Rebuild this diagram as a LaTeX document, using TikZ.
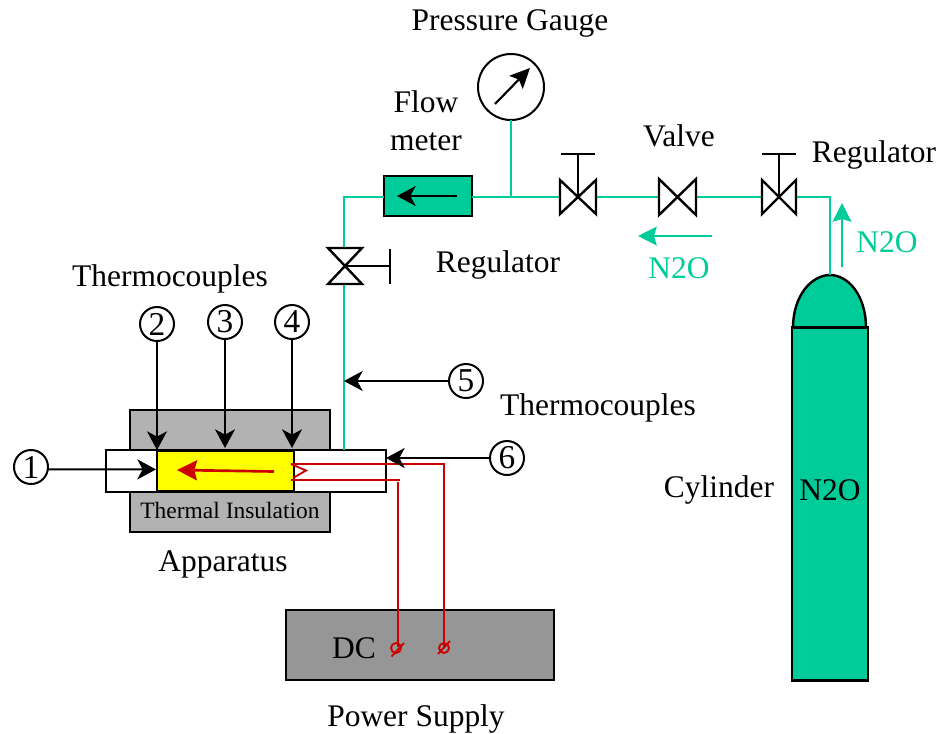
\documentclass[tikz,border=0pt]{standalone}
\usepackage{fontspec}
\setmainfont{Liberation Serif}
\usetikzlibrary{arrows.meta}
\definecolor{gasgreen}{HTML}{00CC99}
\definecolor{wirered}{HTML}{CC0000}
\definecolor{insgray}{HTML}{B2B2B2}
\definecolor{dcgray}{HTML}{969696}
\definecolor{heateryellow}{HTML}{FFFF00}
\newcommand{\bowH}[1]{\draw[blk,fill=white] (#1.north west)--(#1.south west)--(#1.north east)--(#1.south east)--cycle;}
\newcommand{\bowV}[1]{\draw[blk,fill=white] (#1.north west)--(#1.north east)--(#1.south west)--(#1.south east)--cycle;}
\tikzset{
  x=0.75pt,y=-0.75pt,
  sized/.style n args={2}{minimum width=#1*0.75pt,minimum height=#2*0.75pt,inner sep=0pt,outer sep=0pt},
  blk/.style={draw=black,line width=1.8pt,line join=miter},
  thin black/.style={draw=black,line width=1.6pt},
  pipe/.style={draw=gasgreen,line width=1.9pt},
  wire/.style={draw=wirered,line width=2pt},
  bighead/.style={-{Stealth[length=14pt,width=15pt,inset=4pt]}},
  lbl/.style={font=\fontsize{23.6}{28}\selectfont,inner sep=0pt,align=center,yshift=-2pt},
  num/.style={circle,draw=black,line width=1.5pt,fill=white,minimum size=25.5pt,inner sep=0pt,outer sep=0pt,font=\fontsize{25}{28}\selectfont},
}
\begin{document}
\begin{tikzpicture}
\useasboundingbox (0,0) rectangle (938,733);
% apparatus
\node[blk,fill=insgray,sized={200}{42}] (upper) at (230,431) {};
\node[blk,fill=insgray,sized={200}{40}] (lower) at (230,512) {};
\node[blk,fill=white,sized={280}{42}] (tube) at (246,471) {};
\node[blk,fill=heateryellow,sized={137}{40}] (heater) at (225.5,471) {};
\node[font=\fontsize{17.6}{20}\selectfont,inner sep=0pt] (ins) at (230,510) {Thermal Insulation};
\node[lbl] (app) at (223,562) {Apparatus};
% power supply
\node[blk,fill=dcgray,sized={268}{70}] (dc) at (420,645) {};
\node[lbl] (dct) at (354,646) {DC};
\node[lbl] (ps) at (416,716) {Power Supply};
% cylinder
\coordinate (cyltop) at (830,275);
\draw[blk,fill=gasgreen] (793,328) .. controls (793,295) and (812,275) .. (cyltop) .. controls (848,275) and (866,295) .. (866,328) -- cycle;
\node[blk,fill=gasgreen,sized={76}{353}] (cyl) at (830,504) {};
\node[lbl] (cylt) at (830,488) {N2O};
\node[lbl] (cyll) at (719,487) {Cylinder};
% gauge and flow meter
\node[circle,draw=black,line width=1.5pt,minimum size=49.5pt,inner sep=0pt,outer sep=0pt] (gauge) at (511,87) {};
\coordinate (ga) at (495,104); \coordinate (gb) at (530,68);
\draw[thin black,-{Stealth[length=15pt,width=14pt,inset=3pt]}] (ga) -- (gb);
\node[blk,fill=gasgreen,sized={88}{40}] (fm) at (428,196) {};
\coordinate (fa) at (457,196); \coordinate (fb) at (397,196);
\draw[thin black,-{Stealth[length=14pt,width=15pt,inset=4pt]}] (fa) -- (fb);
% valves
\node[sized={36}{34}] (v1) at (578,197) {};
\node[sized={37}{36}] (v2) at (677.5,197) {};
\node[sized={34}{34}] (v3) at (779,197) {};
\node[sized={34}{36}] (v4) at (345,266) {};
% pipes
\coordinate (c1) at (344,197);
\coordinate (tj) at (511,197);
\coordinate (c2) at (830,197);
\coordinate (v4top) at (344,248);
\coordinate (v4bot) at (344,284);
\coordinate (tubein) at (344,450);
\draw[pipe] (c1 -| fm.west) -- (c1) -- (v4top);
\draw[pipe] (v4bot) -- (tubein);
\draw[pipe] (c1 -| fm.east) -- (v1.west);
\draw[pipe] (gauge.south) -- (tj);
\draw[pipe] (v1.east) -- (v2.west);
\draw[pipe] (v2.east) -- (v3.west);
\draw[pipe] (v3.east) -- (c2) -- (cyltop);
\bowH{v1}\bowH{v2}\bowH{v3}\bowV{v4}
% handles
\coordinate (h1) at (578,154); \coordinate (h1a) at (561,154); \coordinate (h1b) at (595,154);
\coordinate (h3) at (779,154); \coordinate (h3a) at (762,154); \coordinate (h3b) at (796,154);
\coordinate (h4) at (390,266); \coordinate (h4a) at (390,249); \coordinate (h4b) at (390,284);
\draw[blk] (v1.center) -- (h1); \draw[blk] (h1a) -- (h1b);
\draw[blk] (v3.center) -- (h3); \draw[blk] (h3a) -- (h3b);
\draw[blk] (v4.center) -- (h4); \draw[blk] (h4a) -- (h4b);
% flow arrows
\coordinate (f1a) at (842,267); \coordinate (f1b) at (842,203);
\coordinate (f2a) at (712,236); \coordinate (f2b) at (638,236);
\draw[pipe,-{Stealth[length=14pt,width=14pt,inset=2pt]}] (f1a) -- (f1b);
\draw[pipe,-{Stealth[length=14pt,width=14pt,inset=2pt]}] (f2a) -- (f2b);
\node[lbl,text=gasgreen] (n2oa) at (887,240) {N2O};
\node[lbl,text=gasgreen] (n2ob) at (679,266) {N2O};
% text
\node[lbl] (tg) at (510,21) {Pressure Gauge};
\node[lbl] (tf) at (426,118) {Flow\\[0.5pt]meter};
\node[lbl] (tv) at (679,133) {Valve};
\node[lbl] (tr1) at (874,152) {Regulator};
\node[lbl] (tr2) at (498,262) {Regulator};
\node[lbl] (tt1) at (170,276) {Thermocouples};
\node[lbl] (tt2) at (598,405) {Thermocouples};
% wiring
\coordinate (w1) at (291,464); \coordinate (w2) at (444,464); \coordinate (w3) at (444,647);
\coordinate (w4) at (291,480); \coordinate (w5) at (400,480);
\coordinate (w6) at (398,482); \coordinate (w7) at (398,647);
\coordinate (z1) at (306,470.5); \coordinate (z2) at (293,478);
\draw[wire,line join=miter] (w1) -- (w2) -- (w3);
\draw[wire] (w4) -- (w5);
\draw[wire] (w6) -- (w7);
\draw[draw=wirered,line width=1.4pt] (w1) -- (z1) -- (z2);
\node[circle,wire,line width=1.4pt,minimum size=7.5pt,inner sep=0pt] (ta) at (396,648) {};
\node[circle,wire,line width=1.4pt,minimum size=7.5pt,inner sep=0pt] (tb) at (444,648) {};
\coordinate (sa1) at (391.5,656.5); \coordinate (sa2) at (404,643);
\coordinate (sb1) at (438,654); \coordinate (sb2) at (450,641);
\draw[wire,line width=1.4pt] (sa1) -- (sa2);
\draw[wire,line width=1.4pt] (sb1) -- (sb2);
\coordinate (ra) at (274,471.5); \coordinate (rb) at (177,470);
\draw[wire,-{Stealth[length=15pt,width=15pt,inset=2pt]}] (ra) -- (rb);
% thermocouples
\node[num] (n1) at (31,467) {1};
\node[num] (n2) at (157,324) {2};
\node[num] (n3) at (225,322) {3};
\node[num] (n4) at (292,322) {4};
\node[num] (n5) at (466,381) {5};
\node[num] (n6) at (507,458) {6};
\coordinate (t1) at (156,469.4);
\coordinate (t2) at (157,450);
\coordinate (t3) at (225,448);
\coordinate (t4) at (292,448);
\coordinate (t5) at (344,381);
\coordinate (t6) at (386,458);
\draw[thin black,bighead] (n1.-8) -- (t1);
\draw[thin black,bighead] (n2) -- (t2);
\draw[thin black,bighead] (n3) -- (t3);
\draw[thin black,bighead] (n4) -- (t4);
\draw[thin black,bighead] (n5.west) -- (t5);
\draw[thin black,bighead] (n6.west) -- (t6);
\end{tikzpicture}
\end{document}
